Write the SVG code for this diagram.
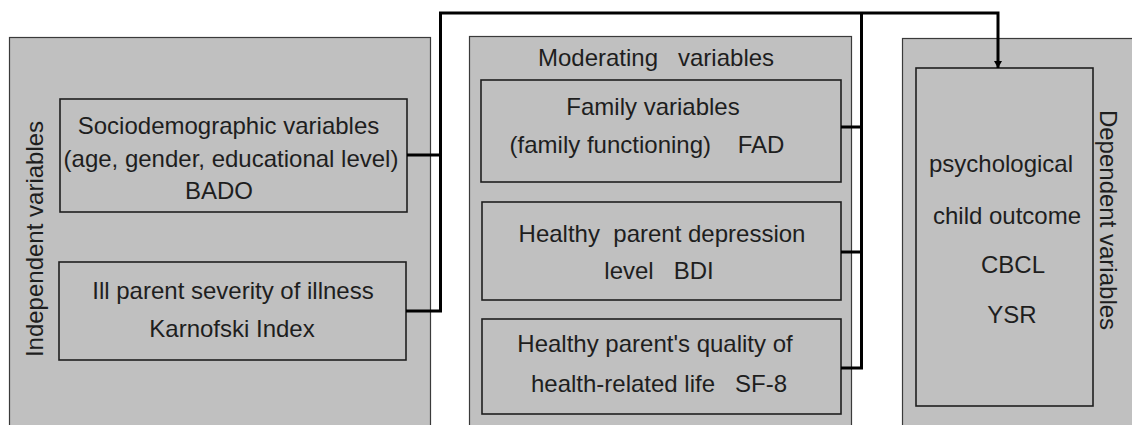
<svg xmlns="http://www.w3.org/2000/svg" width="1132" height="425" viewBox="0 0 1132 425">
<style>
.panel{fill:#c0c0c0;stroke:#3a3a3a;stroke-width:1.2}
.box{fill:#c0c0c0;stroke:#1e1e1e;stroke-width:1.6}
.t{font-family:"Liberation Sans",Arial,sans-serif;font-size:24px;fill:#1e1e1e;text-anchor:middle;white-space:pre}
.c{fill:none;stroke:#000;stroke-width:3}
</style>
<defs>
<marker id="ah" markerUnits="userSpaceOnUse" markerWidth="10" markerHeight="8" refX="7" refY="4" orient="auto">
<path d="M0,0 L7,4 L0,8 Z" fill="#000"/>
</marker>
</defs>
<rect width="1132" height="425" fill="#fff"/>
<g id="panel-independent">
<rect class="panel" x="9.5" y="37.5" width="421" height="400"/>
<text class="t" transform="translate(43,239) rotate(-90)">Independent variables</text>
</g>
<g id="panel-moderating">
<rect class="panel" x="469.5" y="36.5" width="382" height="400"/>
<text class="t" x="656" y="66">Moderating   variables</text>
</g>
<g id="panel-dependent">
<rect class="panel" x="902.5" y="38.5" width="240" height="400"/>
<text class="t" transform="translate(1100,220) rotate(90)">Dependent variables</text>
</g>
<g id="node-sociodemographic">
<rect class="box" x="60" y="99" width="347" height="113"/>
<text class="t" x="228.5" y="134">Sociodemographic variables</text>
<text class="t" x="231" y="167">(age, gender, educational level)</text>
<text class="t" x="219" y="199">BADO</text>
</g>
<g id="node-illness">
<rect class="box" x="59" y="262" width="347" height="98"/>
<text class="t" x="233" y="299">Ill parent severity of illness</text>
<text class="t" x="232" y="337">Karnofski Index</text>
</g>
<g id="node-family">
<rect class="box" x="481" y="80" width="360" height="102"/>
<text class="t" x="653" y="115">Family variables</text>
<text class="t" x="647" y="153">(family functioning)    FAD</text>
</g>
<g id="node-depression">
<rect class="box" x="482" y="202" width="359" height="98"/>
<text class="t" x="662" y="242">Healthy  parent depression</text>
<text class="t" x="659" y="279">level   BDI</text>
</g>
<g id="node-quality">
<rect class="box" x="482" y="319" width="359" height="95"/>
<text class="t" x="655" y="352">Healthy parent's quality of</text>
<text class="t" x="659" y="392">health-related life   SF-8</text>
</g>
<g id="node-outcome">
<rect class="box" x="916" y="68" width="177" height="338"/>
<text class="t" x="1001" y="172">psychological</text>
<text class="t" x="1007" y="224">child outcome</text>
<text class="t" x="1013" y="273">CBCL</text>
<text class="t" x="1012" y="323">YSR</text>
</g>
<g id="connectors">
<path class="c" d="M407,155 H440.5 M406,311 H440.5 V13 H998 V68" marker-end="url(#ah)"/>
<path class="c" d="M841,127 H861.5 M841,252 H861.5 M841,368 H861.5 V13"/>
</g>
</svg>
